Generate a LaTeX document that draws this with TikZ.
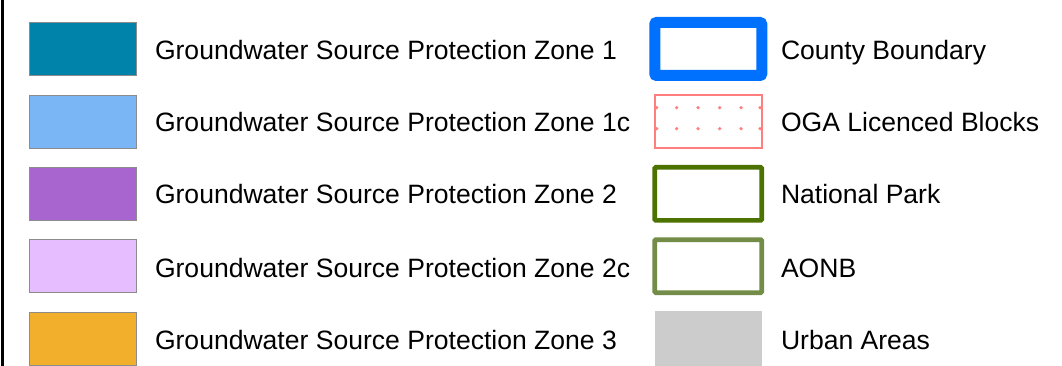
\documentclass[tikz,border=0pt]{standalone}
\usepackage{fontspec}
\setmainfont{Liberation Sans}
\definecolor{zoneA}{HTML}{0083AB}
\definecolor{zoneB}{HTML}{7AB6F5}
\definecolor{zoneC}{HTML}{A965CF}
\definecolor{zoneD}{HTML}{E6BEFF}
\definecolor{zoneE}{HTML}{F2AF2C}
\definecolor{countyc}{HTML}{0070FF}
\definecolor{ogac}{HTML}{FF7F7F}
\definecolor{parkc}{HTML}{4C7300}
\definecolor{aonbc}{HTML}{738C48}
\definecolor{urbanc}{HTML}{CCCCCC}
\tikzset{
  x=1pt,y=-1pt,
  swatch/.style={draw=black!45,line width=1pt,minimum width=107pt,minimum height=53pt,inner sep=0pt,outer sep=0pt},
  frameb/.style={minimum width=107pt,minimum height=53pt,inner sep=0pt,outer sep=0pt,fill=white},
  lab/.style={anchor=base west,inner sep=0pt,outer sep=0pt,font=\fontsize{26.55pt}{30pt}\selectfont,text=black},
  ogadot/.style={circle,fill=ogac,draw=none,minimum size=3.6pt,inner sep=0pt}
}
\begin{document}
\begin{tikzpicture}
\useasboundingbox (0,0) rectangle (1062,366);
\fill[white] (0,0) rectangle (1062,366);
\coordinate (bt) at (2.5,0);
\coordinate (bb) at (2.5,366);
\draw[black,line width=2.2pt] (bt) -- (bb);
\node[swatch,fill=zoneA] (s1) at (82.5,49.5) {};
\node[swatch,fill=zoneB] (s2) at (82.5,122) {};
\node[swatch,fill=zoneC] (s3) at (82.5,194) {};
\node[swatch,fill=zoneD] (s4) at (82.5,266) {};
\node[swatch,fill=zoneE] (s5) at (82.5,338.5) {};
\node[lab] (t1) at (155,59.5) {Groundwater Source Protection Zone 1};
\node[lab] (t2) at (155,131.5) {Groundwater Source Protection Zone 1c};
\node[lab] (t3) at (155,203.5) {Groundwater Source Protection Zone 2};
\node[lab] (t4) at (155,277) {Groundwater Source Protection Zone 2c};
\node[lab] (t5) at (155,349) {Groundwater Source Protection Zone 3};
\node[frameb,draw=countyc,line width=11pt,rounded corners=2pt] (r1) at (708.25,49) {};
\node[frameb,draw=ogac,line width=2pt] (r2) at (708.25,121.5) {};
\foreach \px/\nm in {656.7/a,676.7/b,698/c,719.7/d,741/e,760/f}{
  \node[ogadot] (d1\nm) at (\px,107.7) {};
  \node[ogadot] (d2\nm) at (\px,128.7) {};
}
\node[frameb,draw=parkc,line width=4.6pt,rounded corners=1pt] (r3) at (708.25,193.8) {};
\node[frameb,draw=aonbc,line width=4.6pt,rounded corners=1pt] (r4) at (708.25,266.2) {};
\node[frameb,fill=urbanc,minimum height=55pt] (r5) at (708.5,338.7) {};
\node[lab] (u1) at (781,59.5) {County Boundary};
\node[lab] (u2) at (781,131.5) {OGA Licenced Blocks};
\node[lab] (u3) at (781,203.5) {National Park};
\node[lab] (u4) at (781,277) {AONB};
\node[lab] (u5) at (781,349) {Urban Areas};
\end{tikzpicture}
\end{document}
